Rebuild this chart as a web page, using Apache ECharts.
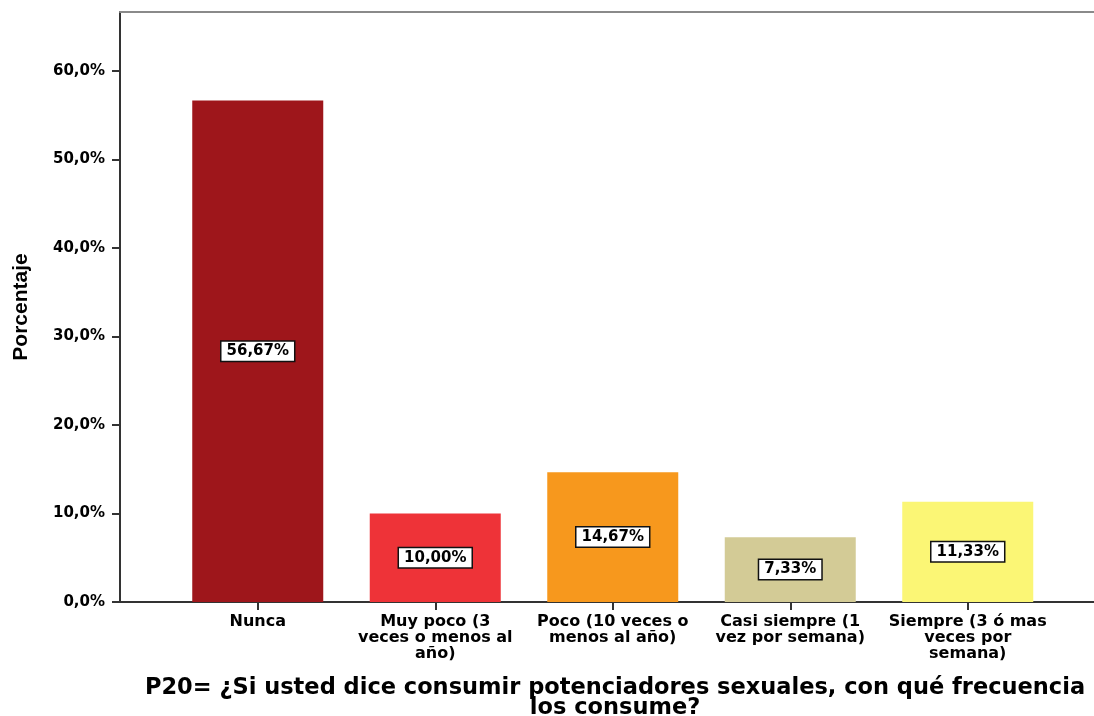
<!DOCTYPE html>
<html>
<head>
<meta charset="utf-8">
<script src="https://cdn.jsdelivr.net/npm/echarts@6/dist/echarts.min.js"></script>
<style>html,body{margin:0;padding:0;background:#fff;}#c{width:1094px;height:716px;}</style>
</head>
<body>
<div id="c"></div>
<script>
const categories = ["Nunca", "Muy poco (3\nveces o menos al\naño)", "Poco (10 veces o\nmenos al año)", "Casi siempre (1\nvez por semana)", "Siempre (3 ó mas\nveces por\nsemana)"];
const values = [56.67, 10.00, 14.67, 7.33, 11.33];
const barColors = ["#9E161B", "#EE3338", "#F7981D", "#D3CB96", "#FBF675"];
const yTicks = [0, 10, 20, 30, 40, 50, 60];
const yTitle = "Porcentaje";
const xTitle = "P20= ¿Si usted dice consumir potenciadores sexuales, con qué frecuencia\nlos consume?";

const FONT = "DejaVu Sans";
const yMax = 66.67;
const chart = echarts.init(document.getElementById('c'), null, {renderer: 'canvas'});
chart.setOption({
  animation: false,
  backgroundColor: '#fff',
  textStyle: {fontFamily: FONT},
  grid: [
    {left: 120, right: -12, top: 12, bottom: 114, containLabel: false},
    {left: 169, right: 37.5, top: 12, bottom: 114, containLabel: false}
  ],
  xAxis: [
    {gridIndex: 0, type: 'value', min: 0, max: 1, position: 'bottom',
     axisLine: {show: true, onZero: false, lineStyle: {color: '#333', width: 2}},
     axisTick: {show: false}, axisLabel: {show: false}, splitLine: {show: false}},
    {gridIndex: 0, type: 'value', min: 0, max: 1, position: 'top',
     axisLine: {show: true, onZero: false, lineStyle: {color: '#8a8a8a', width: 2}},
     axisTick: {show: false}, axisLabel: {show: false}, splitLine: {show: false}},
    {gridIndex: 1, type: 'category', data: categories, position: 'bottom',
     axisLine: {show: false},
     axisTick: {show: true, alignWithLabel: true, length: 8, lineStyle: {color: '#333', width: 2}},
     axisLabel: {interval: 0, margin: 12, color: '#000', fontFamily: FONT, fontWeight: 'bold', fontSize: 16, lineHeight: 16, align: 'center'},
     splitLine: {show: false}}
  ],
  yAxis: [
    {gridIndex: 0, type: 'value', min: 0, max: yMax,
     name: yTitle, nameLocation: 'middle', nameGap: 88, nameRotate: 90,
     nameTextStyle: {color: '#000', fontFamily: 'Liberation Sans', fontWeight: 'bold', fontSize: 21},
     axisLine: {show: true, onZero: false, lineStyle: {color: '#333', width: 2}},
     axisTick: {show: true, length: 8, customValues: yTicks, lineStyle: {color: '#333', width: 2}},
     axisLabel: {show: true, customValues: yTicks, margin: 15, color: '#000', fontFamily: FONT, fontWeight: 'bold', fontSize: 15,
       formatter: v => v.toFixed(1).replace('.', ',') + '%'},
     splitLine: {show: false}},
    {gridIndex: 1, type: 'value', min: 0, max: yMax, show: false}
  ],
  series: [{
    type: 'bar', xAxisIndex: 2, yAxisIndex: 1,
    data: values.map((v, i) => ({value: v, itemStyle: {color: barColors[i]}})),
    barWidth: 131,
    label: {show: true, position: 'inside', color: '#000', fontFamily: FONT, fontWeight: 'bold', fontSize: 15, lineHeight: 16,
      backgroundColor: '#fff', borderColor: '#111', borderWidth: 1.5, padding: [2, 5, 1, 5],
      formatter: p => p.value.toFixed(2).replace('.', ',') + '%'}
  }],
  graphic: [{
    type: 'text', x: 615, y: 678,
    style: {text: xTitle, textAlign: 'center', textVerticalAlign: 'top', fill: '#000',
      font: 'bold 22.5px "DejaVu Sans"', lineHeight: 20}
  }]
});
</script>
</body>
</html>
